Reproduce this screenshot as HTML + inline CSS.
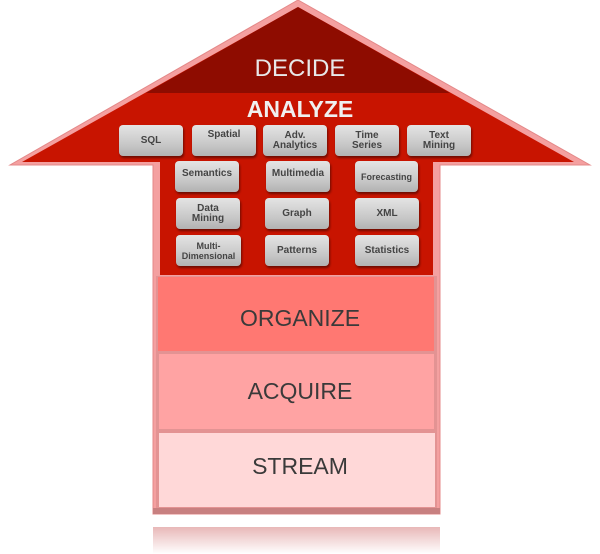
<!DOCTYPE html>
<html><head><style>
body{margin:0;width:600px;height:554px;background:#fff;position:relative;overflow:hidden;font-family:"Liberation Sans",Arial,sans-serif}
.b{position:absolute;height:31px;border-radius:4px;background:linear-gradient(#e4e4e4,#c9c9c9 60%,#b2b2b2);box-shadow:1px 2px 2px rgba(0,0,0,.45);display:flex;align-items:center;justify-content:center;text-align:center;font-size:10px;font-weight:bold;color:#444;line-height:10px}
.t{position:absolute;left:0;width:600px;text-align:center;color:#3a3a3a;font-size:23px}
</style></head><body>
<svg width="600" height="554" style="position:absolute;left:0;top:0">
<defs><linearGradient id="r" x1="0" y1="0" x2="0" y2="1"><stop offset="0" stop-color="#e8b8b8"/><stop offset="1" stop-color="#fff"/></linearGradient></defs>
<polygon points="298,0 590,165 440,165 440,514 153,514 153,165 10,165" fill="#f4a0a0" stroke="#e48888" stroke-width="1"/>
<polygon points="298,7 574,162 433,162 433,275 160,275 160,162 22,162" fill="#c81400"/>
<polygon points="298,7 450,93 146,93" fill="#8e0c00"/>
<rect x="156" y="276" width="281" height="234" fill="#e39393"/>
<rect x="158" y="277" width="276" height="74" fill="#ff7872"/>
<rect x="159" y="354" width="275" height="75" fill="#ffa3a3"/>
<rect x="159" y="433" width="276" height="74" fill="#ffd8d8"/>
<rect x="153" y="508" width="287" height="6" fill="#c88080"/>
<rect x="153" y="527" width="287" height="27" fill="url(#r)"/>
</svg>
<div class="t" style="top:55px;color:#e8e8e8;font-size:24px">DECIDE</div>
<div class="t" style="top:96px;color:#f0f0f0;font-size:23px;font-weight:bold">ANALYZE</div>
<div class="t" style="top:305px">ORGANIZE</div>
<div class="t" style="top:378px">ACQUIRE</div>
<div class="t" style="top:453px">STREAM</div>
<div class="b" style="left:119px;top:125px;width:64px">SQL</div>
<div class="b" style="left:192px;top:125px;width:64px;align-items:flex-start;padding-top:5px;height:26px">Spatial</div>
<div class="b" style="left:263px;top:125px;width:64px">Adv.<br>Analytics</div>
<div class="b" style="left:335px;top:125px;width:64px">Time<br>Series</div>
<div class="b" style="left:407px;top:125px;width:64px">Text<br>Mining</div>
<div class="b" style="left:175px;top:161px;width:64px;align-items:flex-start;padding-top:8px;height:23px">Semantics</div>
<div class="b" style="left:266px;top:161px;width:64px;align-items:flex-start;padding-top:8px;height:23px">Multimedia</div>
<div class="b" style="left:355px;top:161px;width:63px;font-size:9px">Forecasting</div>
<div class="b" style="left:176px;top:198px;width:64px">Data<br>Mining</div>
<div class="b" style="left:265px;top:198px;width:64px">Graph</div>
<div class="b" style="left:355px;top:198px;width:64px">XML</div>
<div class="b" style="left:176px;top:235px;width:65px;font-size:9px">Multi-<br>Dimensional</div>
<div class="b" style="left:265px;top:235px;width:64px">Patterns</div>
<div class="b" style="left:355px;top:235px;width:64px">Statistics</div>
</body></html>
